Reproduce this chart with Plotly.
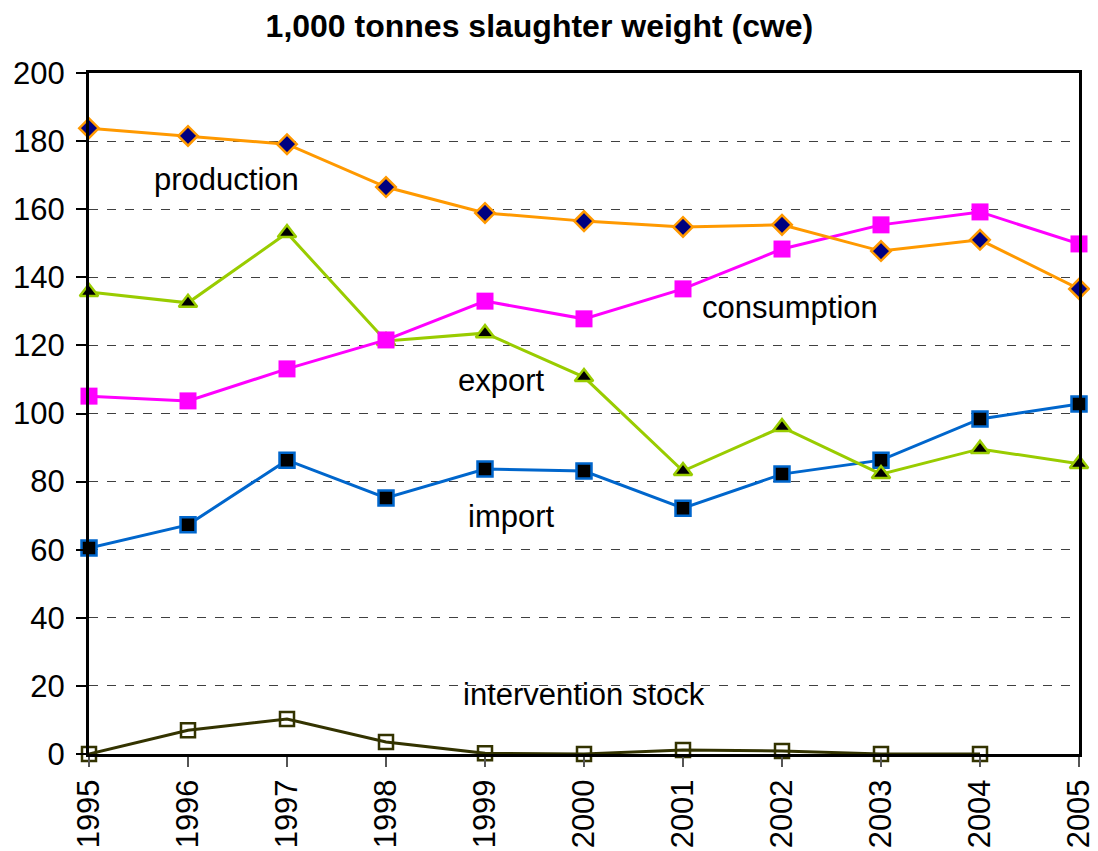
import plotly.graph_objects as go

years = [1995, 1996, 1997, 1998, 1999, 2000, 2001, 2002, 2003, 2004, 2005]

production = [183.8, 181.5, 179.1, 166.5, 158.9, 156.5, 154.8, 155.4, 147.7, 151.0, 136.6]
consumption = [105.1, 103.7, 113.1, 121.6, 133.0, 127.8, 136.6, 148.3, 155.4, 159.2, 149.8]
export = [135.7, 132.5, 153.0, 121.3, 123.6, 110.7, 83.1, 96.0, 82.2, 89.6, 85.2]
imports = [60.5, 67.3, 86.3, 75.2, 83.7, 83.1, 72.2, 82.2, 86.3, 98.4, 102.8]
intervention = [0.0, 7.0, 10.3, 3.5, 0.2, 0.0, 1.2, 0.9, 0.0, 0.0, None]

FONT = "Liberation Sans, Arial, sans-serif"

fig = go.Figure()

# lines drawn bottom-up so production/consumption sit on top
fig.add_trace(go.Scatter(
    x=years, y=intervention, mode="lines+markers", name="intervention stock",
    line=dict(color="#333300", width=3),
    marker=dict(symbol="square-open", size=14, color="#333300", line=dict(width=2.5)),
    cliponaxis=False))
fig.add_trace(go.Scatter(
    x=years, y=imports, mode="lines+markers", name="import",
    line=dict(color="#0066CC", width=3),
    marker=dict(symbol="square", size=15, color="black", line=dict(color="#0066CC", width=2.5)),
    cliponaxis=False))
fig.add_trace(go.Scatter(
    x=years, y=export, mode="lines+markers", name="export",
    line=dict(color="#99CC00", width=3),
    marker=dict(symbol="triangle-up", size=16, color="black", line=dict(color="#99CC00", width=2.5)),
    cliponaxis=False))
fig.add_trace(go.Scatter(
    x=years, y=consumption, mode="lines+markers", name="consumption",
    line=dict(color="#FF00FF", width=3),
    marker=dict(symbol="square", size=17, color="#FF00FF"),
    cliponaxis=False))
fig.add_trace(go.Scatter(
    x=years, y=production, mode="lines+markers", name="production",
    line=dict(color="#FF9900", width=3),
    marker=dict(symbol="diamond", size=15, color="#000080", line=dict(color="#FF9900", width=2.5)),
    cliponaxis=False))

labels = [
    ("production", 1996.39, 168.6),
    ("consumption", 2002.08, 131.2),
    ("export", 1999.17, 109.6),
    ("import", 1999.27, 69.8),
    ("intervention stock", 2000.0, 17.6),
]
for text, lx, ly in labels:
    fig.add_annotation(x=lx, y=ly, text=text, showarrow=False,
                       font=dict(size=31, color="black", family=FONT))

fig.update_layout(
    width=1098, height=851,
    paper_bgcolor="white", plot_bgcolor="white",
    margin=dict(l=81, r=27, t=65, b=105),
    showlegend=False,
    font=dict(family=FONT, color="black"),
    title=dict(text="<b>1,000 tonnes slaughter weight (cwe)</b>",
               x=0.484, xanchor="center", y=0.979, yanchor="middle",
               font=dict(size=32, family=FONT, color="black")),
)
fig.update_xaxes(
    range=[1995, 2005], tickmode="array", tickvals=years,
    ticktext=[str(y) for y in years], tickangle=-90,
    tickfont=dict(size=31, family=FONT, color="black"),
    ticks="outside", ticklen=10, tickcolor="#555555", tickwidth=1.5,
    automargin=False,
    showgrid=False, zeroline=False,
    showline=True, linecolor="black", linewidth=3, mirror=True,
)
fig.update_yaxes(
    range=[0, 200], tickvals=list(range(0, 201, 20)),
    tickfont=dict(size=31, family=FONT, color="black"),
    ticks="outside", ticklen=10, tickcolor="black", tickwidth=1.5,
    ticklabelstandoff=5, automargin=False,
    showgrid=True, gridcolor="#404040", griddash="dash", gridwidth=1,
    zeroline=False,
    showline=True, linecolor="black", linewidth=3, mirror=True,
)

fig.write_html("out.html")
